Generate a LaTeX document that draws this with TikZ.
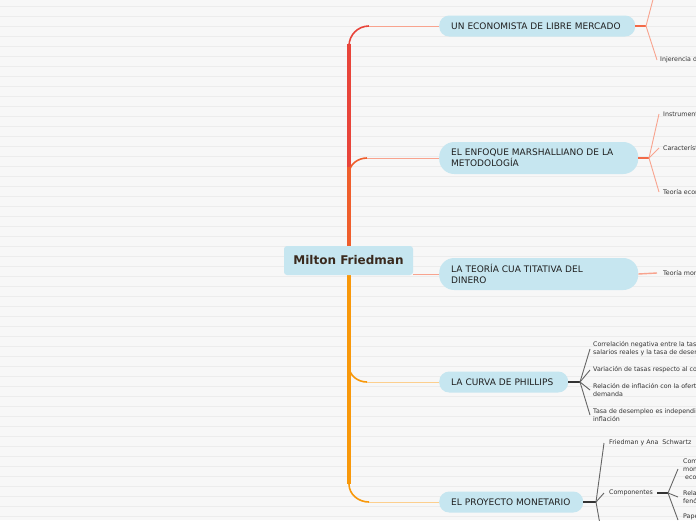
\documentclass[tikz,border=0pt]{standalone}
\usepackage{fontspec}
\setmainfont{DejaVu Sans}
\usepackage{xcolor}
\usetikzlibrary{positioning}

\definecolor{paper}{HTML}{F7F7F7}
\definecolor{ruling}{HTML}{ECECEC}
\definecolor{topicfill}{HTML}{C6E6F0}
\definecolor{trunkred}{HTML}{E8443A}
\definecolor{trunkmid}{HTML}{EF5E2C}
\definecolor{trunkorange}{HTML}{F8980A}
\definecolor{salmon}{HTML}{F8A38E}
\definecolor{peach}{HTML}{FCCF8E}
\definecolor{stubred}{HTML}{F26A48}
\definecolor{titlebrown}{HTML}{3A2A1E}

\tikzset{
  maintopic/.style={fill=topicfill, rounded corners=3pt, minimum width=129pt, minimum height=29pt,
    inner sep=0pt, text=titlebrown, font=\fontsize{12}{14}\selectfont\bfseries},
  topic/.style={fill=topicfill, anchor=west, inner xsep=12pt, inner ysep=0pt, align=left,
    text=black!88, font=\fontsize{9}{11}\selectfont},
  leaf/.style={anchor=west, inner sep=0pt, align=left, text=black!80, font=\fontsize{6.3}{8}\selectfont},
  trunk/.style={line width=4.5pt},
  twig/.style={line width=1.6pt},
  redstub/.style={draw=stubred, line width=1.8pt},
  darkstub/.style={draw=black!80, line width=2pt},
  redfan/.style={draw=salmon, line width=0.9pt},
  greyfan/.style={draw=black!60, line width=0.9pt},
}

\begin{document}
\begin{tikzpicture}[x=1pt, y=-1pt]
  \useasboundingbox (0,0) rectangle (696,520);
  \clip (0,0) rectangle (696,520);
  \fill[paper] (0,0) rectangle (696,520);
  \foreach \y in {6,16,...,516}
    \draw[ruling, line width=0.7pt] (0,\y) -- (696,\y);

  % trunk
  \draw[trunk, trunkred] (349,44) -- (349,167);
  \draw[trunk, trunkmid] (349,167) -- (349,252);
  \draw[trunk, trunkorange] (349,268) -- (349,484);

  % topics
  \node[maintopic] (milton) at (348.5,260.5) {Milton Friedman};
  \node[topic, text width=172pt, minimum height=21pt, rounded corners=10pt] (libre) at (439,26)
    {UN ECONOMISTA DE LIBRE MERCADO};
  \node[topic, text width=175pt, minimum height=32pt, rounded corners=15pt] (marshall) at (439,158)
    {EL ENFOQUE MARSHALLIANO DE LA\\METODOLOGÍA};
  \node[topic, text width=175pt, minimum height=32pt, rounded corners=15pt] (teoria) at (439,274)
    {LA TEORÍA CUA TITATIVA DEL\\DINERO};
  \node[topic, text width=105pt, minimum height=21pt, rounded corners=10pt] (phillips) at (439,382)
    {LA CURVA DE PHILLIPS};
  \node[topic, text width=120pt, minimum height=21pt, rounded corners=10pt] (proyecto) at (439,502)
    {EL PROYECTO MONETARIO};

  % branches from the trunk
  \coordinate (tr-libre) at (349,46);
  \coordinate (tr-marshall) at (349,174);
  \coordinate (tr-phillips) at (349,366);
  \coordinate (tr-proyecto) at (349,484);
  \coordinate (in-libre) at (369,26);
  \coordinate (in-marshall) at (367,158);
  \coordinate (in-phillips) at (367,382);
  \coordinate (in-proyecto) at (369,502);
  \draw[twig, trunkred] (tr-libre) to[out=90,in=180] (in-libre);
  \draw[twig, trunkmid] (tr-marshall) to[out=90,in=180] (in-marshall);
  \draw[twig, trunkorange] (tr-phillips) to[out=-90,in=180] (in-phillips);
  \draw[twig, trunkorange] (tr-proyecto) to[out=-90,in=180] (in-proyecto);
  \draw[salmon, line width=1pt] (in-libre) -- (libre);
  \draw[salmon, line width=1pt] (in-marshall) -- (marshall);
  \draw[salmon, line width=1pt] (milton.east |- teoria.west) -- (teoria.west);
  \draw[peach, line width=1pt] (in-phillips) -- (phillips);
  \draw[peach, line width=1pt] (in-proyecto) -- (proyecto);

  % leaves of the first topic
  \coordinate (fk-libre) at (646,26);
  \coordinate (up-libre) at (656,-12);
  \node[leaf] (injerencia) at (660,60) {Injerencia d};
  \draw[redstub] (libre.east) -- (fk-libre);
  \draw[redfan] (fk-libre) -- (up-libre);
  \draw[redfan] (fk-libre) -- ([xshift=-3pt]injerencia.west);

  % leaves of the second topic
  \coordinate (fk-marshall) at (649,158);
  \node[leaf] (instr) at (663,114) {Instrument};
  \node[leaf] (caract) at (663,148) {Característi};
  \node[leaf] (teoeco) at (663,192) {Teoría econ};
  \draw[redstub] (marshall.east) -- (fk-marshall);
  \foreach \n in {instr,caract,teoeco}
    \draw[redfan] (fk-marshall) -- ([xshift=-4pt]\n.west);

  % leaf of the third topic
  \node[leaf] (teomon) at (663,273) {Teoría mon};
  \draw[salmon, line width=1.4pt] (teoria.east) -- ([xshift=-6pt]teomon.west);

  % leaves of the fourth topic
  \coordinate (fk-phillips) at (580,382);
  \node[leaf] (correl) at (593,349) {Correlación negativa entre la tas\\salarios reales y la tasa de desem};
  \node[leaf] (variac) at (593,370) {Variación de tasas respecto al co};
  \node[leaf] (relac) at (593,390) {Relación de inflación con la ofert\\demanda};
  \node[leaf] (tasa) at (593,415) {Tasa de desempleo es independie\\inflación};
  \draw[darkstub] (phillips.east) -- (fk-phillips);
  \foreach \n in {correl,variac,relac,tasa}
    \draw[greyfan] (fk-phillips) -- ([xshift=-3pt]\n.west);

  % leaves of the fifth topic
  \coordinate (fk-proyecto) at (596,502);
  \coordinate (down-proyecto) at (601,530);
  \node[leaf] (schwartz) at (609,443) {Friedman y Ana\ \ Schwartz};
  \node[leaf] (compon) at (609,493) {Componentes};
  \draw[darkstub] (proyecto.east) -- (fk-proyecto);
  \foreach \n in {schwartz,compon}
    \draw[greyfan] (fk-proyecto) -- ([xshift=-5pt]\n.west);
  \draw[greyfan] (fk-proyecto) -- (down-proyecto);

  \coordinate (fk-compon) at (668,493);
  \node[leaf] (comp) at (683,469) {Com\\mon\\\hspace{2pt}eco};
  \node[leaf] (rela) at (683,497) {Rela\\fenó};
  \node[leaf] (pape) at (683,517) {Pape};
  \draw[darkstub] ([xshift=4pt]compon.east) -- (fk-compon);
  \foreach \n in {comp,rela}
    \draw[greyfan] (fk-compon) -- ([xshift=-5pt]\n.west);
  \draw[greyfan] (fk-compon) -- ([xshift=-5pt,yshift=-3pt]pape.west);
\end{tikzpicture}
\end{document}
